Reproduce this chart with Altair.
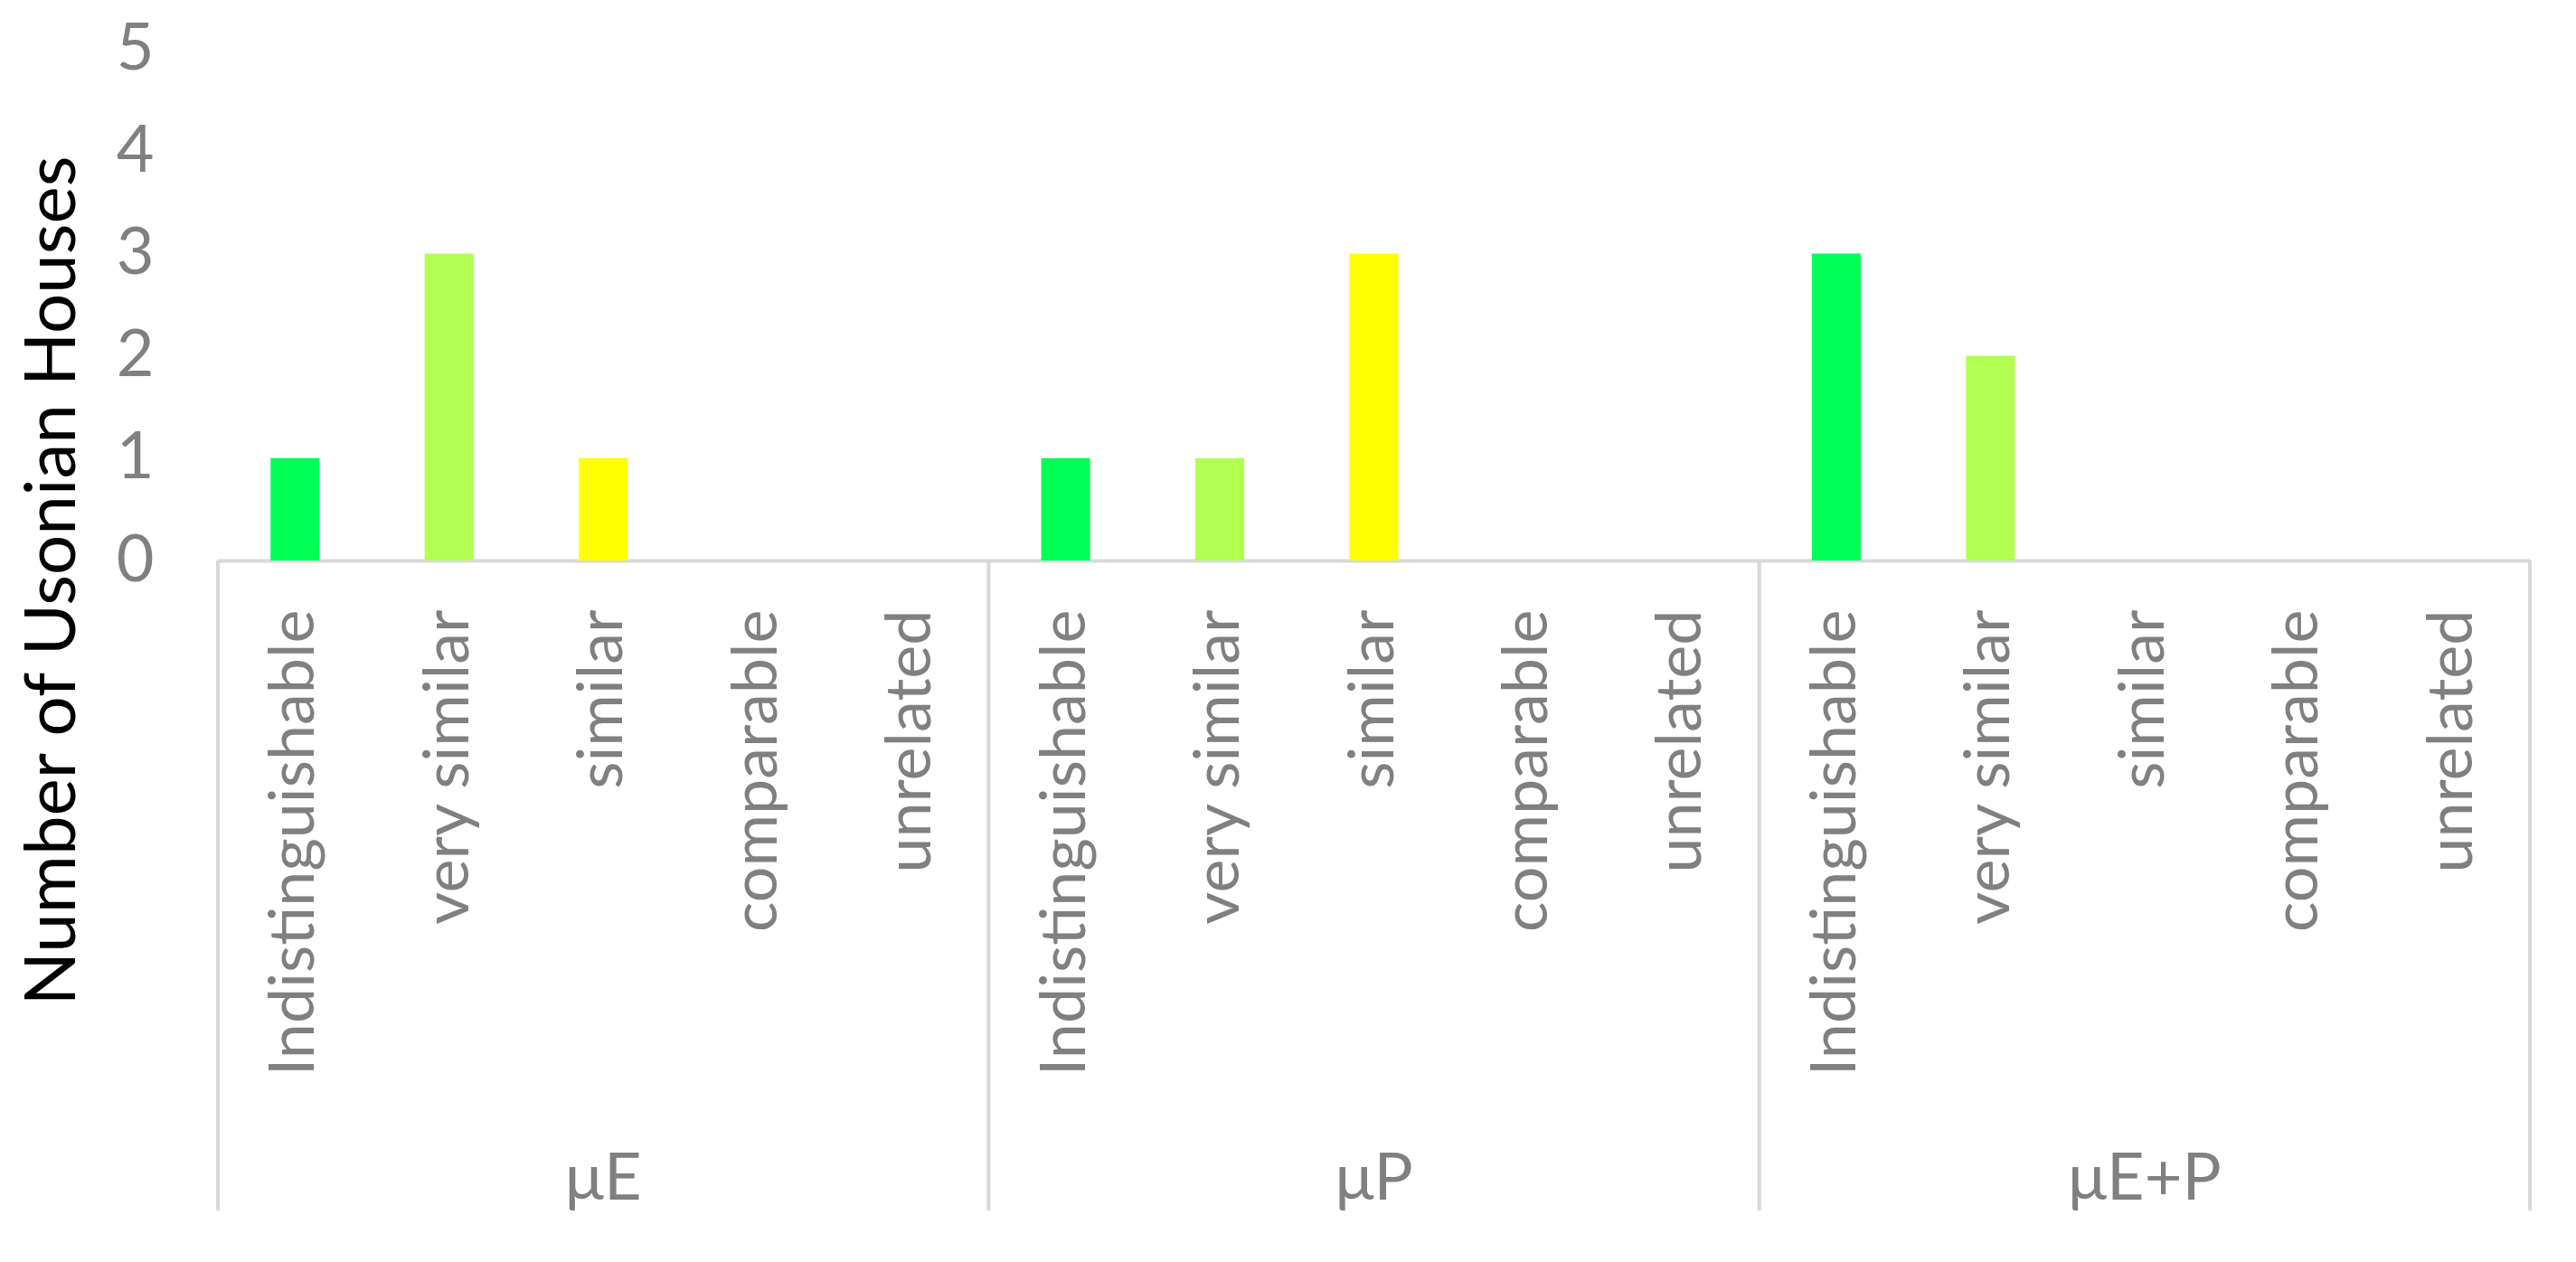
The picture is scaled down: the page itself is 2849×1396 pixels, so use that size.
import altair as alt
import pandas as pd

groups = ["μE", "μP", "μE+P"]
categories = ["Indistinguishable", "very similar", "similar", "comparable", "unrelated"]
values_muE = [1, 3, 1, 0, 0]
values_muP = [1, 1, 3, 0, 0]
values_muEP = [3, 2, 0, 0, 0]
cat_colors = ["#00FF55", "#B2FF52", "#FFFF00", "#FFC000", "#FF0000"]

series = [values_muE, values_muP, values_muEP]
rows = []
order = []
for g, vals in zip(groups, series):
    for c, v in zip(categories, vals):
        k = g + "|" + c
        order.append(k)
        rows.append({"key": k, "group": g, "category": c, "value": v})
df = pd.DataFrame(rows)

W = 2557
H = 566
FONT = "Lato"
GREY = "#808080"
LINE = "#d9d9d9"

xscale = alt.Scale(domain=order, paddingInner=0, paddingOuter=0)

bars = alt.Chart(df).mark_bar(width=alt.RelativeBandSize(0.317)).encode(
    x=alt.X("key:N", scale=xscale, sort=order,
            axis=alt.Axis(title=None, labelAngle=270, labelAlign="right", labelBaseline="middle",
                          labelExpr="split(datum.label, '|')[1]", labelFontSize=70, labelColor=GREY,
                          labelFont=FONT, labelPadding=54, labelLimit=1000, labelOverlap=False,
                          ticks=False, domainColor=LINE, domainWidth=4, grid=False)),
    y=alt.Y("value:Q", scale=alt.Scale(domain=[0, 5]),
            axis=alt.Axis(values=[0, 1, 2, 3, 4, 5], format="d", grid=False, domain=False, ticks=False,
                          labelPadding=71, labelFontSize=72, labelColor=GREY, labelFont=FONT,
                          title="Number of Usonian Houses", titleFontSize=78, titleColor="black",
                          titleFont=FONT, titleFontWeight="normal", titleAngle=270,
                          titleAlign="center", titleBaseline="bottom", titleX=-143, titleY=588)),
    color=alt.Color("category:N", scale=alt.Scale(domain=categories, range=cat_colors), legend=None),
)

first_keys = pd.DataFrame({"key": [g + "|" + categories[0] for g in groups]})
last_key = pd.DataFrame({"key": [groups[-1] + "|" + categories[-1]]})
mid_keys = pd.DataFrame({"key": [g + "|" + categories[2] for g in groups], "group": groups})

left_rules = alt.Chart(first_keys).mark_rule(color=LINE, strokeWidth=4).encode(
    x=alt.X("key:N", scale=xscale, sort=order, bandPosition=0),
    y=alt.value(H), y2=alt.value(H + 719),
)
right_rule = alt.Chart(last_key).mark_rule(color=LINE, strokeWidth=4).encode(
    x=alt.X("key:N", scale=xscale, sort=order, bandPosition=1),
    y=alt.value(H), y2=alt.value(H + 719),
)
group_text = alt.Chart(mid_keys).mark_text(font=FONT, fontSize=72, color=GREY, baseline="middle").encode(
    x=alt.X("key:N", scale=xscale, sort=order),
    y=alt.value(1305 - 54),
    text="group:N",
)

chart = alt.layer(bars, left_rules, right_rule, group_text).properties(
    width=W, height=H,
    autosize=alt.AutoSizeParams(type="none"),
    padding={"left": 233, "top": 46, "right": 40, "bottom": 770},
    background="white",
).configure_view(strokeWidth=0, stroke="transparent")

chart.save("out.html", embed_options={"renderer": "svg", "actions": False})
